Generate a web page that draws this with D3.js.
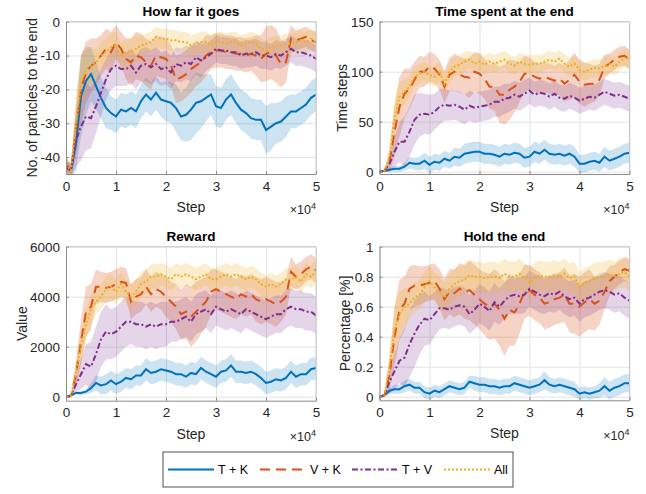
<!DOCTYPE html>
<html>
<head>
<meta charset="utf-8">
<script src="https://cdn.jsdelivr.net/npm/d3@7"></script>
<style>
  body { margin: 0; background: #fff; }
  svg { font-family: "Liberation Sans", Arial, sans-serif; }
</style>
</head>
<body>
<svg width="646" height="494"></svg>
<script>
// sample positions (training steps), one every 1000 steps
var steps = d3.range(0, 50001, 1000);
var seriesNames = ["T + K", "V + K", "T + V", "All"];
var xTicks = [0, 10000, 20000, 30000, 40000, 50000];

// ---- How far it goes (mean, band half width)
var farTK = [-43,-44,-36,-22,-17.5,-15.5,-19,-22.5,-25.5,-27,-28,
  -26,-26.5,-25.5,-26.5,-23.5,-21.5,-23,-21,-23,-23.5,
  -24,-25.5,-28,-27.5,-26,-24,-23.5,-22.5,-21.5,-25,
  -25.5,-23,-21.5,-24,-26,-27,-28.5,-29,-29,-32,
  -31,-30,-29.5,-28,-26.5,-26.5,-25.5,-24.5,-22.5,-21.5];
var farVK = [-42,-44,-32,-20,-15,-13,-12,-10,-8,-9,-6,
  -8,-11,-12,-10,-10.5,-12,-13,-10,-10.5,-11,
  -13,-17,-16.5,-15.5,-14,-13,-12,-10,-9,-8.5,
  -8.5,-9,-9,-9.5,-9.5,-10,-9.5,-10,-11,-9.5,
  -9,-10,-12.5,-12,-5,-5.5,-5,-4.5,-5.5,-6];
var farTV = [-43,-44,-35,-31,-28,-28.5,-25,-21,-17,-14,-13,
  -14,-14,-13,-15,-13,-12.5,-13.5,-12.5,-14,-13.5,
  -15,-12.5,-13,-12,-12.5,-10.5,-11.5,-10.5,-9.5,-8,
  -8.5,-8.5,-9,-9,-10,-9.5,-9.5,-9,-10,-10,
  -10.5,-9.5,-10,-9,-8,-9,-9,-9.5,-10,-11];
var farAll = [-42,-44,-30,-18,-14,-13,-12,-10,-9,-7.5,-7,
  -10.5,-9,-9,-8,-7,-6.5,-6,-4.5,-5,-5,
  -5.5,-5.5,-6,-6,-7,-6.5,-6,-6,-7,-6,
  -6,-6.5,-6,-6,-7,-6.5,-6,-6.5,-8,-8.5,
  -7.5,-7,-7,-6.5,-6.5,-6,-5.5,-6,-5,-6];
var farTKBand = [2,2,8,12,10,8,7,6,6,5,5, 5,5,5,5,5,5,5,5,5,6, 6,7,7,8,9,9,8,7,6,6, 6,6,6,6,6,6,6,6,6,7, 7,6,6,6,5,5,5,5,5,5];
var farVKBand = [2,2,8,10,9,8,7,6,6,6,5, 5,6,7,7,7,7,7,6,6,6, 6,7,7,7,7,6,6,6,5,5, 5,5,5,5,5,5,5,6,7,8, 8,8,7,6,4,3,3,3,3,3];
var farTVBand = [2,2,8,10,10,9,8,7,6,6,6, 5,5,5,5,5,5,5,5,5,5, 5,5,5,5,5,5,5,4,4,4, 4,4,4,4,4,4,4,4,4,4, 4,4,4,4,4,4,4,4,4,4];
var farAllBand = [2,2,8,8,6,5,4,4,4,4,4, 4,4,4,4,3,3,3,3,3,3, 3,3,3,3,3,3,3,3,3,3, 3,3,3,3,3,3,3,3,3,3, 3,3,3,3,3,3,3,3,3,3];

// ---- Time spent at the end
var timeTK = [0,1,2,3,3,5,9,8,8,11,7, 10,9,13,11,15,14,18,19,20,20, 18,18,17,15,18,17,19,18,14,15, 20,18,22,18,17,18,16,18,15,8, 8,10,11,9,15,11,13,15,18,19];
var timeVK = [0,1,10,40,65,78,83,92,100,100,105, 103,97,85,97,100,97,95,94,100,98, 93,85,85,77,77,82,85,90,98,98, 95,93,95,93,91,93,88,92,97,90, 87,88,88,92,105,108,112,115,116,112];
var timeTV = [0,1,8,20,30,30,40,52,57,58,57, 60,65,67,66,67,65,62,66,64,65, 66,67,70,70,73,74,77,75,78,81, 77,79,78,75,78,74,73,76,74,71, 73,75,74,77,80,78,76,77,75,73];
var timeAll = [0,1,15,55,75,80,85,95,98,100,97, 95,100,88,100,105,107,110,112,108,110, 107,110,108,110,112,108,106,110,108,107, 108,108,110,112,110,113,108,105,108,102, 100,102,104,103,106,108,105,110,114,113];
var timeTKBand = [1,1,2,3,3,4,6,6,7,8,8, 8,8,8,8,9,9,10,10,10,10, 10,10,10,10,10,10,10,10,10,10, 10,10,10,10,10,10,10,10,10,9, 9,9,9,9,10,10,10,10,10,10];
var timeVKBand = [1,1,10,25,30,25,20,18,16,15,15, 15,15,16,17,18,18,18,20,20,20, 20,22,24,28,30,30,26,20,18,16, 15,15,15,15,15,16,18,20,22,22, 22,20,18,16,12,10,10,10,10,10];
var timeTVBand = [1,1,8,15,20,25,25,25,22,20,20, 18,18,16,15,15,15,15,15,15,15, 15,15,15,15,15,14,14,14,14,13, 13,13,13,13,13,13,13,13,13,13, 13,13,13,13,13,13,13,13,13,13];
var timeAllBand = [1,1,10,18,15,12,10,10,10,10,10, 10,10,10,10,10,10,10,9,9,9, 9,9,9,9,9,9,9,9,9,9, 9,9,9,9,9,9,9,9,9,9, 9,9,9,9,9,9,9,9,9,9];

// ---- Reward
var rewTK = [0,50,150,150,200,350,550,450,500,650,500, 600,750,700,850,850,1100,950,1000,1100,1050, 1000,900,900,800,950,900,1150,1000,900,800, 1000,1050,1250,1000,1000,950,1000,900,750,550, 600,700,650,750,1000,800,900,900,1100,1150];
var rewVK = [0,20,900,2200,3400,3600,4400,4400,4350,4400,4500, 4600,4550,3800,4000,4100,4400,4100,4300,4200,4000, 3800,3600,3300,3400,3200,3400,3600,3800,4200,4300, 4200,4100,4000,3900,4100,4000,4100,3900,3800,3900, 3800,3700,3800,4000,5000,4800,4900,5100,5200,5050];
var rewTV = [0,30,500,900,1300,1200,1700,2300,2600,2500,2600, 2800,3000,3000,2900,2900,2800,2900,2800,2900,2900, 3000,3000,3100,3200,3000,3300,3400,3500,3300,3600, 3500,3400,3500,3400,3300,3500,3400,3300,3200,3100, 3200,3300,3300,3500,3600,3500,3500,3400,3400,3250];
var rewAll = [0,30,1000,2000,2900,3500,3800,4000,4300,4400,4200, 4500,4200,4000,4200,4500,4600,4800,4800,4900,4800, 4700,4900,4800,4900,4800,4700,4800,4900,4700,4700, 4800,4900,4800,4900,4800,4700,4800,4700,4500,4400, 4500,4400,4500,4700,4700,4800,4600,4900,4800,5000];
var rewTKBand = [20,30,60,80,100,200,300,350,400,400,400, 400,400,400,400,400,450,450,450,450,450, 450,450,450,450,450,450,450,450,450,450, 450,450,450,450,450,450,450,450,450,450, 450,450,450,450,450,450,450,450,450,450];
var rewVKBand = [20,30,500,900,1000,900,700,600,600,600,600, 600,600,700,700,700,700,700,700,700,800, 800,900,1000,1100,1200,1200,1100,1000,900,800, 800,800,800,800,800,800,800,900,900,900, 900,900,800,700,600,500,500,500,500,500];
var rewTVBand = [20,30,300,600,800,1000,1100,1100,1100,1000,1000, 1000,1000,900,900,900,900,900,900,900,900, 800,800,800,800,800,800,800,750,750,750, 750,750,750,750,750,750,750,750,750,750, 750,750,750,750,750,750,750,750,750,750];
var rewAllBand = [20,30,400,600,600,600,500,500,500,500,500, 500,500,500,500,500,500,500,500,450,450, 450,450,450,450,450,450,450,450,450,450, 450,450,450,450,450,450,450,450,450,450, 450,450,450,450,450,450,450,450,450,450];

// ---- Hold the end
var holdTK = [0,0.01,0.04,0.05,0.05,0.07,0.08,0.06,0.06,0.03,0.02, 0.04,0.03,0.05,0.07,0.06,0.05,0.06,0.1,0.09,0.08, 0.08,0.07,0.07,0.06,0.07,0.07,0.09,0.08,0.07,0.06, 0.07,0.08,0.11,0.08,0.07,0.08,0.07,0.06,0.05,0.02, 0.03,0.02,0.03,0.04,0.07,0.04,0.06,0.07,0.09,0.09];
var holdVK = [0,0.01,0.15,0.4,0.58,0.62,0.72,0.74,0.74,0.75,0.76, 0.77,0.72,0.65,0.7,0.69,0.72,0.7,0.71,0.68,0.65, 0.62,0.6,0.62,0.58,0.52,0.58,0.56,0.62,0.7,0.71, 0.68,0.66,0.62,0.63,0.65,0.66,0.68,0.62,0.62,0.6, 0.63,0.65,0.62,0.64,0.7,0.77,0.8,0.83,0.85,0.84];
var holdTV = [0,0.01,0.1,0.17,0.24,0.26,0.35,0.42,0.48,0.52,0.51, 0.55,0.59,0.59,0.58,0.6,0.61,0.6,0.55,0.58,0.62, 0.6,0.57,0.63,0.6,0.64,0.67,0.68,0.67,0.68,0.72, 0.7,0.68,0.67,0.69,0.68,0.7,0.67,0.65,0.66,0.62, 0.65,0.66,0.68,0.7,0.71,0.7,0.68,0.69,0.66,0.64];
var holdAll = [0,0.01,0.2,0.45,0.55,0.6,0.62,0.66,0.68,0.73,0.77, 0.73,0.7,0.66,0.72,0.75,0.77,0.78,0.81,0.8,0.8, 0.79,0.8,0.8,0.79,0.82,0.8,0.8,0.82,0.79,0.76, 0.79,0.81,0.8,0.8,0.81,0.8,0.82,0.79,0.8,0.73, 0.76,0.77,0.79,0.8,0.8,0.82,0.8,0.82,0.83,0.8];
var holdTKBand = [0.005,0.01,0.02,0.03,0.03,0.04,0.04,0.04,0.04,0.04,0.04, 0.04,0.04,0.04,0.04,0.04,0.04,0.04,0.04,0.05,0.05, 0.05,0.05,0.05,0.05,0.05,0.05,0.05,0.05,0.05,0.05, 0.05,0.05,0.06,0.05,0.05,0.05,0.05,0.05,0.05,0.04, 0.04,0.04,0.04,0.05,0.06,0.06,0.06,0.06,0.06,0.06];
var holdVKBand = [0.005,0.01,0.1,0.2,0.2,0.18,0.15,0.14,0.13,0.12,0.12, 0.12,0.13,0.14,0.15,0.16,0.17,0.18,0.2,0.2,0.2, 0.21,0.22,0.23,0.24,0.25,0.24,0.22,0.2,0.18,0.17, 0.17,0.17,0.17,0.17,0.17,0.17,0.18,0.19,0.2,0.2, 0.2,0.2,0.18,0.16,0.12,0.1,0.08,0.08,0.08,0.08];
var holdTVBand = [0.005,0.01,0.08,0.12,0.15,0.2,0.22,0.22,0.2,0.18,0.16, 0.15,0.14,0.13,0.13,0.13,0.13,0.13,0.13,0.13,0.13, 0.13,0.13,0.13,0.12,0.12,0.12,0.12,0.12,0.12,0.12, 0.12,0.12,0.12,0.12,0.12,0.12,0.12,0.12,0.12,0.12, 0.12,0.12,0.12,0.12,0.12,0.12,0.12,0.12,0.12,0.12];
var holdAllBand = [0.005,0.01,0.1,0.15,0.15,0.12,0.1,0.1,0.1,0.1,0.1, 0.1,0.1,0.1,0.1,0.1,0.1,0.1,0.1,0.1,0.1, 0.1,0.1,0.1,0.1,0.1,0.1,0.1,0.1,0.1,0.1, 0.1,0.1,0.1,0.1,0.1,0.1,0.1,0.1,0.1,0.1, 0.1,0.1,0.1,0.1,0.1,0.1,0.1,0.1,0.1,0.1];

var colors = ["#0072BD", "#D95319", "#7E2F8E", "#EDB120"];
var dashes = [null, "10,6", "6,2.5,2,2.5", "2,2"];
var bandAlpha = [0.2, 0.25, 0.2, 0.22];

var panels = [
  { title: "How far it goes", ylabel: "No. of particles to the end", ylabelX: 37,
    x0: 66, x1: 316, y0: 21.7, y1: 174, ydom: [-45, 0], yticks: [-40, -30, -20, -10, 0],
    means: [farTK, farVK, farTV, farAll], bands: [farTKBand, farVKBand, farTVBand, farAllBand] },
  { title: "Time spent at the end", ylabel: "Time steps", ylabelX: 347,
    x0: 379.5, x1: 629.5, y0: 21.7, y1: 174, ydom: [-2.3, 150], yticks: [0, 50, 100, 150],
    means: [timeTK, timeVK, timeTV, timeAll], bands: [timeTKBand, timeVKBand, timeTVBand, timeAllBand] },
  { title: "Reward", ylabel: "Value", ylabelX: 27,
    x0: 66, x1: 316, y0: 246.7, y1: 400.7, ydom: [-160, 6000], yticks: [0, 2000, 4000, 6000],
    means: [rewTK, rewVK, rewTV, rewAll], bands: [rewTKBand, rewVKBand, rewTVBand, rewAllBand] },
  { title: "Hold the end", ylabel: "Percentage [%]", ylabelX: 350,
    x0: 379.5, x1: 629.5, y0: 246.7, y1: 400.3, ydom: [-0.024, 1], yticks: [0, 0.2, 0.4, 0.6, 0.8, 1],
    means: [holdTK, holdVK, holdTV, holdAll], bands: [holdTKBand, holdVKBand, holdTVBand, holdAllBand] }
];

var svg = d3.select("svg");
svg.append("rect").attr("width", 646).attr("height", 494).attr("fill", "#fff");

panels.forEach(function (p, pi) {
  var w = p.x1 - p.x0, h = p.y1 - p.y0;
  var xScale = d3.scaleLinear().domain([0, 50000]).range([0, w]);
  var yScale = d3.scaleLinear().domain(p.ydom).range([h, 0]);
  var g = svg.append("g").attr("transform", "translate(" + p.x0 + "," + p.y0 + ")");

  // grid
  g.append("g").attr("class", "grid")
    .attr("transform", "translate(0," + h + ")")
    .call(d3.axisBottom(xScale).tickValues(xTicks).tickSize(-h).tickFormat(""));
  g.append("g").attr("class", "grid")
    .call(d3.axisLeft(yScale).tickValues(p.yticks).tickSize(-w).tickFormat(""));
  g.selectAll(".grid line").attr("stroke", "#e3e3e3").attr("stroke-width", 1);
  g.selectAll(".grid .domain").remove();

  g.append("clipPath").attr("id", "clip" + pi)
    .append("rect").attr("width", w).attr("height", h);
  var plot = g.append("g").attr("clip-path", "url(#clip" + pi + ")");

  p.means.forEach(function (m, si) {
    var band = p.bands[si];
    var area = d3.area()
      .x(function (d, i) { return xScale(steps[i]); })
      .y0(function (d, i) { return yScale(m[i] - band[i]); })
      .y1(function (d, i) { return yScale(m[i] + band[i]); });
    plot.append("path").datum(m).attr("d", area)
      .attr("fill", colors[si]).attr("fill-opacity", bandAlpha[si]);
  });
  p.means.forEach(function (m, si) {
    var line = d3.line()
      .x(function (d, i) { return xScale(steps[i]); })
      .y(function (d) { return yScale(d); });
    plot.append("path").datum(m).attr("d", line)
      .attr("fill", "none").attr("stroke", colors[si]).attr("stroke-width", 2)
      .attr("stroke-dasharray", dashes[si]);
  });

  // box
  g.append("line").attr("x1", 0).attr("x2", w).attr("y1", 0).attr("y2", 0).attr("stroke", "#c8c8c8");
  g.append("line").attr("x1", w).attr("x2", w).attr("y1", 0).attr("y2", h).attr("stroke", "#c8c8c8");

  var xAxis = d3.axisBottom(xScale).tickValues(xTicks)
    .tickFormat(function (d) { return d / 10000; })
    .tickSizeInner(-3).tickSizeOuter(0).tickPadding(7);
  var yAxis = d3.axisLeft(yScale).tickValues(p.yticks)
    .tickFormat(function (d) { return d; })
    .tickSizeInner(-3).tickSizeOuter(0).tickPadding(6);
  g.append("g").attr("class", "ax").attr("transform", "translate(0," + h + ")").call(xAxis);
  g.append("g").attr("class", "ax").call(yAxis);
  g.selectAll(".ax .domain").attr("stroke", "#8a8a8a");
  g.selectAll(".ax line").attr("stroke", "#8a8a8a");
  g.selectAll(".ax text").attr("fill", "#262626").style("font-size", "13.5px")
    .style("font-family", "'Liberation Sans', Arial, sans-serif");

  // titles and labels
  svg.append("text").attr("x", p.x0 + w / 2).attr("y", p.y0 - 6)
    .attr("text-anchor", "middle").style("font-size", "13.5px").style("font-weight", "bold")
    .attr("fill", "#000").text(p.title);
  svg.append("text").attr("x", p.x0 + w / 2).attr("y", p.y1 + 38)
    .attr("text-anchor", "middle").style("font-size", "14px").attr("fill", "#262626").text("Step");
  var mult = svg.append("text").attr("x", p.x1).attr("y", p.y1 + 40)
    .attr("text-anchor", "end").style("font-size", "12.5px").attr("fill", "#262626");
  mult.append("tspan").text("\u00d710");
  mult.append("tspan").attr("dy", -5).style("font-size", "9px").text("4");
  svg.append("text")
    .attr("transform", "translate(" + p.ylabelX + "," + (p.y0 + h / 2) + ") rotate(-90)")
    .attr("text-anchor", "middle").style("font-size", "14px").attr("fill", "#262626").text(p.ylabel);
});

// legend
var lg = svg.append("g").attr("transform", "translate(163,452)");
lg.append("rect").attr("width", 350).attr("height", 35).attr("fill", "#fff")
  .attr("stroke", "#262626").attr("stroke-width", 0.8);
var legendX = [5, 97, 189, 281];
seriesNames.forEach(function (name, i) {
  lg.append("line").attr("x1", legendX[i]).attr("x2", legendX[i] + 46)
    .attr("y1", 17.5).attr("y2", 17.5)
    .attr("stroke", colors[i]).attr("stroke-width", 2).attr("stroke-dasharray", dashes[i]);
  lg.append("text").attr("x", legendX[i] + 50).attr("y", 22)
    .style("font-size", "12.5px").attr("fill", "#000").text(name);
});
</script>
</body>
</html>
